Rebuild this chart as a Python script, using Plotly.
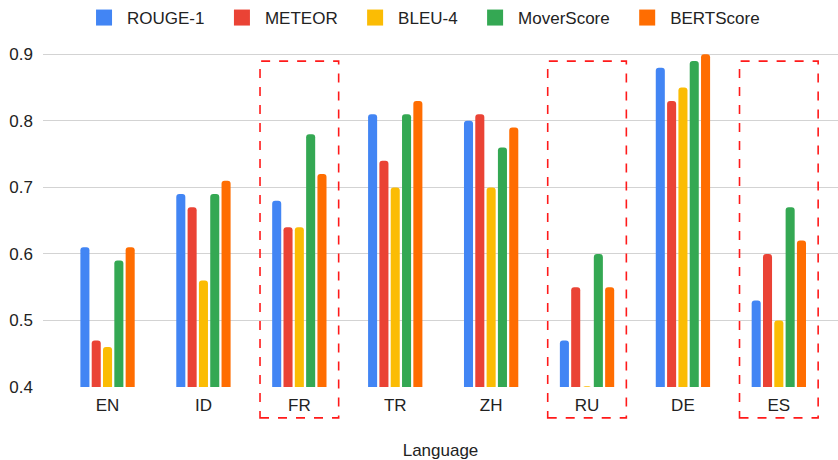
import plotly.graph_objects as go

languages = ["EN", "ID", "FR", "TR", "ZH", "RU", "DE", "ES"]
rouge1 = [0.61, 0.69, 0.68, 0.81, 0.80, 0.47, 0.88, 0.53]
meteor = [0.47, 0.67, 0.64, 0.74, 0.81, 0.55, 0.83, 0.60]
bleu4 = [0.46, 0.56, 0.64, 0.70, 0.70, 0.401, 0.85, 0.50]
moverscore = [0.59, 0.69, 0.78, 0.81, 0.76, 0.60, 0.89, 0.67]
bertscore = [0.61, 0.71, 0.72, 0.83, 0.79, 0.55, 0.90, 0.62]

series = [
    ("ROUGE-1", rouge1, "#4285F4"),
    ("METEOR", meteor, "#EA4335"),
    ("BLEU-4", bleu4, "#FBBC04"),
    ("MoverScore", moverscore, "#34A853"),
    ("BERTScore", bertscore, "#FF6D01"),
]

highlighted = ["FR", "RU", "ES"]

FONT = "Arial, 'Liberation Sans', sans-serif"
PAD = "\u00a0" * 2  # extra room between legend entries

fig = go.Figure()
for k, (name, vals, color) in enumerate(series):
    fig.add_trace(go.Bar(
        x=languages, y=vals, name=name, legendgroup=name, showlegend=False,
        marker=dict(color=color, line=dict(width=0)),
        cliponaxis=False,
    ))
    # larger square swatch for the legend entry
    label = name if k == len(series) - 1 else name + PAD
    fig.add_trace(go.Scatter(
        x=[None], y=[None], mode="markers", name=label, legendgroup=name,
        marker=dict(symbol="square", size=16, color=color),
        showlegend=True, hoverinfo="skip",
    ))

# dashed boxes around the highlighted languages
for lang in highlighted:
    i = languages.index(lang)
    fig.add_shape(
        type="rect", xref="x", yref="paper",
        x0=i - 0.41, x1=i + 0.41, y0=-0.092, y1=0.97,
        line=dict(color="#FF1A1A", width=1.6, dash="dash"),
        fillcolor="rgba(0,0,0,0)", layer="above",
    )

fig.update_layout(
    width=838, height=460,
    margin=dict(l=43, r=0, t=51, b=73),
    paper_bgcolor="white", plot_bgcolor="white",
    font=dict(family=FONT, size=17, color="#222222"),
    barmode="group", bargap=0.41, bargroupgap=0.2,
    barcornerradius=3,
    showlegend=True,
    legend=dict(
        orientation="h", x=0.0967, xanchor="left", xref="container",
        y=1.0, yanchor="top", yref="container",
        font=dict(family=FONT, size=17, color="#222222"),
        itemwidth=36, tracegroupgap=0,
    ),
    xaxis=dict(
        range=[-0.673, 7.617], showgrid=False, zeroline=False,
        ticks="", showline=False, tickfont=dict(family=FONT, size=17, color="#222222"),
        ticklabelstandoff=6,
        title=dict(text="Language", font=dict(family=FONT, size=17, color="#222222"), standoff=30),
    ),
    yaxis=dict(
        range=[0.4, 0.905], tickvals=[0.4, 0.5, 0.6, 0.7, 0.8, 0.9],
        ticktext=["0.4", "0.5", "0.6", "0.7", "0.8", "0.9"],
        showgrid=True, gridcolor="#D3D3D3", gridwidth=1, zeroline=False,
        showline=False, ticks="", tickfont=dict(family=FONT, size=17, color="#222222"),
        ticklabelstandoff=9,
    ),
)

fig.write_html("out.html")
